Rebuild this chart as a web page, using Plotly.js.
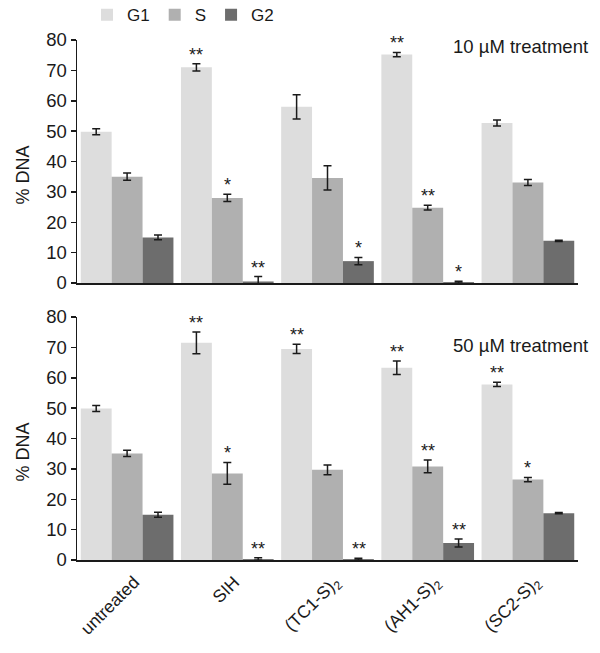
<!DOCTYPE html>
<html>
<head>
<meta charset="utf-8">
<script src="https://cdn.plot.ly/plotly-3.0.1.min.js"></script>
<style>
  html, body { margin: 0; padding: 0; background: #fff; }
  #chart { width: 600px; height: 653px; }
</style>
</head>
<body>
<div id="chart"></div>
<script>
var categories = ['untreated', 'SIH', '(TC1-S)<sub>2</sub>', '(AH1-S)<sub>2</sub>', '(SC2-S)<sub>2</sub>'];
var seriesNames = ['G1', 'S', 'G2'];
var colors = ['#dddddd', '#b0b0b0', '#6d6d6d'];

// 10 uM treatment
var g1_10 = [49.8, 71.0, 58.0, 75.2, 52.7];
var s_10 = [35.0, 28.0, 34.6, 24.8, 33.1];
var g2_10 = [15.0, 0.5, 7.2, 0.3, 13.9];
var g1Err_10 = [1.0, 1.2, 4.0, 0.7, 1.0];
var sErr_10 = [1.2, 1.2, 4.0, 0.8, 1.0];
var g2Err_10 = [0.8, 1.6, 1.2, 0.3, 0.2];
var g1Star_10 = ['', '**', '', '**', ''];
var sStar_10 = ['', '*', '', '**', ''];
var g2Star_10 = ['', '**', '*', '*', ''];

// 50 uM treatment
var g1_50 = [49.9, 71.5, 69.5, 63.3, 57.8];
var s_50 = [35.1, 28.5, 29.7, 30.8, 26.5];
var g2_50 = [14.9, 0.3, 0.3, 5.6, 15.4];
var g1Err_50 = [1.0, 3.6, 1.5, 2.2, 0.7];
var sErr_50 = [1.0, 3.6, 1.6, 2.1, 0.7];
var g2Err_50 = [0.8, 0.4, 0.3, 1.3, 0.2];
var g1Star_50 = ['', '**', '**', '**', '**'];
var sStar_50 = ['', '*', '', '**', '*'];
var g2Star_50 = ['', '**', '**', '**', ''];

var panels = [
  {xa: 'x', ya: 'y', vals: [g1_10, s_10, g2_10], errs: [g1Err_10, sErr_10, g2Err_10],
   stars: [g1Star_10, sStar_10, g2Star_10], title: '10 µM treatment', titleY: 78, legend: true},
  {xa: 'x2', ya: 'y2', vals: [g1_50, s_50, g2_50], errs: [g1Err_50, sErr_50, g2Err_50],
   stars: [g1Star_50, sStar_50, g2Star_50], title: '50 µM treatment', titleY: 70.5, legend: false}
];

var data = [];
var annotations = [];
var shifts = [-31, 0, 31];

panels.forEach(function(p) {
  for (var k = 0; k < 3; k++) {
    data.push({
      type: 'bar',
      name: seriesNames[k],
      x: categories,
      y: p.vals[k],
      xaxis: p.xa,
      yaxis: p.ya,
      marker: {color: colors[k]},
      showlegend: p.legend,
      legendgroup: seriesNames[k],
      error_y: {type: 'data', array: p.errs[k], visible: true, color: '#1a1a1a', thickness: 1.5, width: 4},
      hoverinfo: 'y'
    });
    for (var i = 0; i < categories.length; i++) {
      if (p.stars[k][i]) {
        annotations.push({
          xref: p.xa, yref: p.ya,
          x: categories[i], y: p.vals[k][i] + p.errs[k][i],
          xshift: shifts[k], yshift: -3,
          yanchor: 'bottom', showarrow: false,
          text: p.stars[k][i],
          font: {size: 18, color: '#1a1a1a'}
        });
      }
    }
  }
  // panel label
  annotations.push({
    xref: 'paper', yref: p.ya, x: 1, y: p.titleY, xshift: 12,
    xanchor: 'right', yanchor: 'middle', showarrow: false,
    text: p.title, font: {size: 18.5, color: '#1a1a1a'}
  });
  // y title (sits a bit below the panel middle in the original)
  annotations.push({
    xref: 'paper', yref: p.ya + ' domain', x: 0, y: 0.5, xshift: -54, yshift: -14,
    xanchor: 'center', yanchor: 'middle', showarrow: false, textangle: -90,
    text: '% DNA', font: {size: 18, color: '#1a1a1a'}
  });
});

var yaxisBase = {
  range: [0, 80], dtick: 10, showgrid: false, zeroline: false,
  showline: true, linecolor: '#1a1a1a', linewidth: 1.5,
  ticks: 'outside', ticklen: 5, tickwidth: 1.5, tickcolor: '#1a1a1a',
  tickfont: {size: 18.5, color: '#1a1a1a'},
  fixedrange: true
};
var xaxisBase = {
  type: 'category', showgrid: false, zeroline: false,
  showline: true, linecolor: '#1a1a1a', linewidth: 2,
  ticks: '', tickfont: {size: 17.5, color: '#1a1a1a'}, tickangle: -45,
  ticklabelshift: 7, ticklabelstandoff: 3,
  fixedrange: true
};

var layout = {
  width: 600, height: 653,
  margin: {l: 77, r: 22, t: 40, b: 93, autoexpand: false},
  paper_bgcolor: '#ffffff', plot_bgcolor: '#ffffff',
  font: {family: 'Liberation Sans, Arial, sans-serif', color: '#1a1a1a'},
  barmode: 'group', bargap: 0.075, bargroupgap: 0,
  showlegend: true,
  legend: {orientation: 'h', x: 0.02, xanchor: 'left', y: 1.013, yanchor: 'bottom',
           font: {size: 17, color: '#1a1a1a'}, itemwidth: 30, traceorder: 'normal'},
  xaxis: Object.assign({}, xaxisBase, {anchor: 'y', showticklabels: false}),
  yaxis: Object.assign({}, yaxisBase, {domain: [0.5327, 1], anchor: 'x'}),
  xaxis2: Object.assign({}, xaxisBase, {anchor: 'y2', matches: 'x'}),
  yaxis2: Object.assign({}, yaxisBase, {domain: [0, 0.4673], anchor: 'x2'}),
  annotations: annotations
};

Plotly.newPlot('chart', data, layout, {displayModeBar: false, staticPlot: true});
</script>
</body>
</html>
